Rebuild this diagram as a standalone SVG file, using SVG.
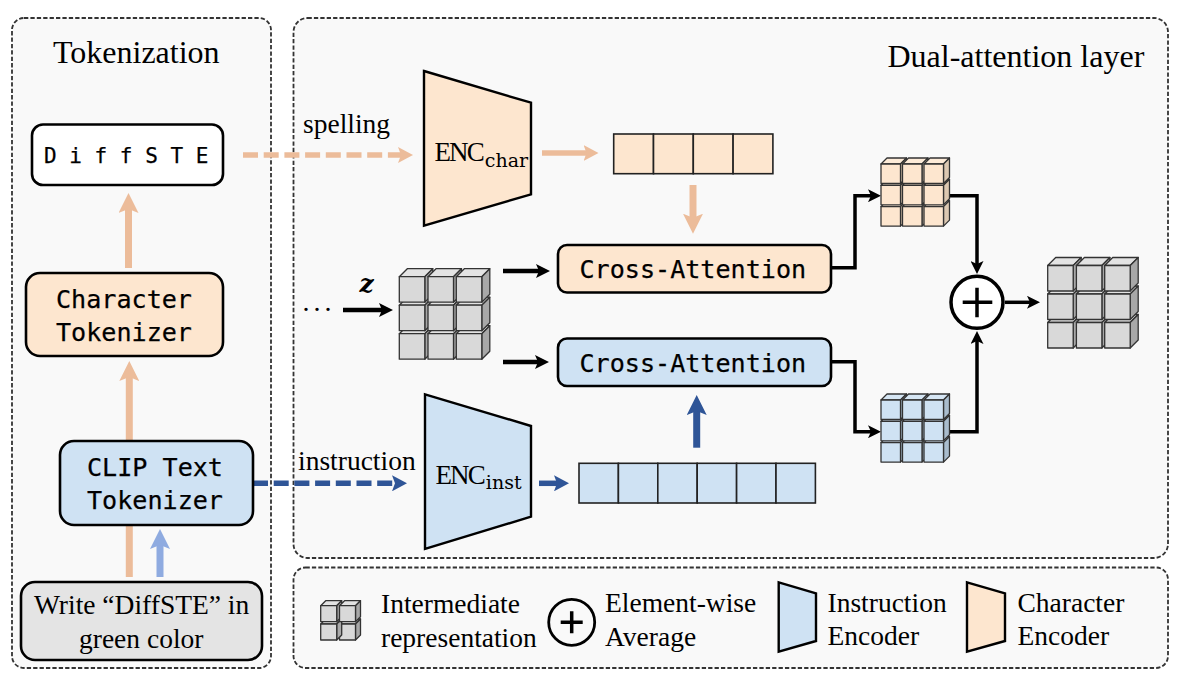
<svg xmlns="http://www.w3.org/2000/svg" width="1177" height="679" viewBox="0 0 1177 679">
<style>
text{font-family:"Liberation Serif","Times New Roman",serif;fill:#000}
.mono{font-family:"DejaVu Sans Mono",monospace;font-size:25.1px;stroke:#000;stroke-width:.25}
.t32{font-size:32px}.t27{font-size:27.5px}
.enc{font-size:27px;letter-spacing:-1.9px}.sub{font-family:"DejaVu Serif",serif;font-size:19px}
.panel{fill:#f9f9f9;stroke:#333;stroke-width:1.8;stroke-dasharray:4.3 2.1}
.box{stroke:#000;stroke-width:2.6}
.or{fill:#fde6cf}.bl{fill:#cfe2f3}.gr{fill:#e4e4e4}.wh{fill:#fff}
.trap{stroke:#000;stroke-width:2.4}
.cell{stroke:#222;stroke-width:1.6}
.f{stroke:#333;stroke-width:1.3;stroke-linejoin:round}
.conn{fill:none}
.peach{stroke:#ecbc9a}.lb{stroke:#8fabe0}.nb{stroke:#2f5597}.blk{stroke:#000}
.w7{stroke-width:7}.w5{stroke-width:5.5}.w45{stroke-width:4.5}.w35{stroke-width:3.5}
.dash{stroke-dasharray:15 5.7}
.sum{fill:#fff;stroke:#000;stroke-width:3.5}
.plus{fill:none;stroke:#000;stroke-width:3.5}
</style>
<defs>
<marker id="pL" markerUnits="userSpaceOnUse" markerWidth="20" markerHeight="20" refX="5" refY="10" orient="auto"><path d="M0,0L20,10L0,20L4,10Z" fill="#ecbc9a"/></marker>
<marker id="pS" markerUnits="userSpaceOnUse" markerWidth="15" markerHeight="16" refX="4" refY="8" orient="auto"><path d="M0,0L15,8L0,16L3,8Z" fill="#ecbc9a"/></marker>
<marker id="lL" markerUnits="userSpaceOnUse" markerWidth="20" markerHeight="20" refX="5" refY="10" orient="auto"><path d="M0,0L20,10L0,20L4,10Z" fill="#8fabe0"/></marker>
<marker id="nL" markerUnits="userSpaceOnUse" markerWidth="20" markerHeight="20" refX="5" refY="10" orient="auto"><path d="M0,0L20,10L0,20L4,10Z" fill="#2f5597"/></marker>
<marker id="nS" markerUnits="userSpaceOnUse" markerWidth="15" markerHeight="16" refX="4" refY="8" orient="auto"><path d="M0,0L15,8L0,16L3,8Z" fill="#2f5597"/></marker>
<marker id="kM" markerUnits="userSpaceOnUse" markerWidth="14" markerHeight="14" refX="4" refY="7" orient="auto"><path d="M0,0L14,7L0,14L3,7Z" fill="#000"/></marker>
<marker id="kS" markerUnits="userSpaceOnUse" markerWidth="13" markerHeight="13" refX="4" refY="6.5" orient="auto"><path d="M0,0L13,6.5L0,13L3,6.5Z" fill="#000"/></marker>

<g id="cGrey">
<path class="f" d="M0,0L8,-8H33.5L25.5,0Z" fill="#e3e3e3"/>
<path class="f" d="M25.5,0L33.5,-8V17.5L25.5,25.5Z" fill="#a8a8a8"/>
<rect class="f" width="25.5" height="25.5" fill="#d9d9d9"/>
</g>
<g id="cOr">
<path class="f" d="M0,0L6,-6H25.5L19.5,0Z" fill="#fdebd8"/>
<path class="f" d="M19.5,0L25.5,-6V13.5L19.5,19.5Z" fill="#dcc8b2"/>
<rect class="f" width="19.5" height="19.5" fill="#fde6cf"/>
</g>
<g id="cBl">
<path class="f" d="M0,0L6,-6H25.5L19.5,0Z" fill="#d6e6f4"/>
<path class="f" d="M19.5,0L25.5,-6V13.5L19.5,19.5Z" fill="#a9bccd"/>
<rect class="f" width="19.5" height="19.5" fill="#cfe2f3"/>
</g>
<g id="cXs">
<path class="f" d="M0,0L5,-5H21L16,0Z" fill="#e3e3e3"/>
<path class="f" d="M16,0L21,-5V11L16,16Z" fill="#a8a8a8"/>
<rect class="f" width="16" height="16" fill="#d9d9d9"/>
</g>
<g id="gridGrey">
<use href="#cGrey" x="0" y="57"/><use href="#cGrey" x="28.7" y="57"/><use href="#cGrey" x="57" y="57"/>
<use href="#cGrey" x="0" y="28.5"/><use href="#cGrey" x="28.7" y="28.5"/><use href="#cGrey" x="57" y="28.5"/>
<use href="#cGrey" x="0" y="0"/><use href="#cGrey" x="28.7" y="0"/><use href="#cGrey" x="57" y="0"/>
</g>
<g id="gridOr">
<use href="#cOr" x="0" y="42.6"/><use href="#cOr" x="21.5" y="42.6"/><use href="#cOr" x="43" y="42.6"/>
<use href="#cOr" x="0" y="21.3"/><use href="#cOr" x="21.5" y="21.3"/><use href="#cOr" x="43" y="21.3"/>
<use href="#cOr" x="0" y="0"/><use href="#cOr" x="21.5" y="0"/><use href="#cOr" x="43" y="0"/>
</g>
<g id="gridBl">
<use href="#cBl" x="0" y="42.6"/><use href="#cBl" x="21.5" y="42.6"/><use href="#cBl" x="43" y="42.6"/>
<use href="#cBl" x="0" y="21.3"/><use href="#cBl" x="21.5" y="21.3"/><use href="#cBl" x="43" y="21.3"/>
<use href="#cBl" x="0" y="0"/><use href="#cBl" x="21.5" y="0"/><use href="#cBl" x="43" y="0"/>
</g>
</defs>

<rect width="1177" height="679" fill="#fff"/>

<g id="panels">
<rect id="panel-tokenization" class="panel" x="12" y="18" width="259" height="650" rx="12"/>
<rect id="panel-dual" class="panel" x="293.5" y="18" width="874.5" height="540" rx="14"/>
<rect id="panel-legend" class="panel" x="293.5" y="567.5" width="874.5" height="100.5" rx="12"/>
<text class="t32" x="53" y="63">Tokenization</text>
<text class="t32" x="887.5" y="67">Dual-attention layer</text>
</g>

<g id="connectors" class="conn">
<path class="peach w7" d="M128.5,268V208" marker-end="url(#pL)"/>
<path class="peach w7" d="M129.3,577V376" marker-end="url(#pL)"/>
<path class="lb w7" d="M160,577V544" marker-end="url(#lL)"/>
<path class="peach w5 dash" d="M243,155H402" marker-end="url(#pS)"/>
<path class="nb w5 dash" d="M253,483.3H396" marker-end="url(#nS)"/>
<path class="peach w5" d="M542,153H587.5" marker-end="url(#pS)"/>
<path class="peach w7" d="M693,185V218.7" marker-end="url(#pL)"/>
<path class="nb w5" d="M539,483.3H558" marker-end="url(#nS)"/>
<path class="nb w7" d="M696.7,447.7V410" marker-end="url(#nL)"/>
<path class="blk w45" d="M343,310H383" marker-end="url(#kM)"/>
<path class="blk w45" d="M503,271H540" marker-end="url(#kM)"/>
<path class="blk w45" d="M503,362H539" marker-end="url(#kM)"/>
<path class="blk w35" d="M831,267.7H855V195.7H872" marker-end="url(#kS)"/>
<path class="blk w35" d="M831,361.7H855V431.7H872" marker-end="url(#kS)"/>
<path class="blk w35" d="M949,195.7H977V265" marker-end="url(#kS)"/>
<path class="blk w35" d="M949,431.7H977V340" marker-end="url(#kS)"/>
<path class="blk w35" d="M1005,302.3H1031" marker-end="url(#kS)"/>
<text class="t27" x="303" y="132.5" stroke="none" fill="#000">spelling</text>
<text class="t27" x="298" y="469.5" stroke="none" fill="#000">instruction</text>
<text x="359.5" y="292" stroke="none" fill="#000" style="font-family:'DejaVu Serif',serif;font-weight:bold;font-style:italic;font-size:25px">z</text>
<text x="302.5" y="311" stroke="none" fill="#000" style="font-size:28px;letter-spacing:4px">...</text>
</g>

<g id="node-diffste">
<rect class="box wh" x="32" y="124.5" width="191" height="60.5" rx="11"/>
<text class="mono" x="44" y="163" style="font-size:21px">D i f f S T E</text>
</g>
<g id="node-character-tokenizer">
<rect class="box or" x="26" y="273" width="197" height="83" rx="14"/>
<text class="mono" x="56" y="308">Character</text>
<text class="mono" x="56" y="341">Tokenizer</text>
</g>
<g id="node-clip-tokenizer">
<rect class="box bl" x="60" y="441" width="193" height="84" rx="14"/>
<text class="mono" x="87" y="475.5">CLIP Text</text>
<text class="mono" x="87" y="508.5">Tokenizer</text>
</g>
<g id="node-prompt">
<rect class="box gr" x="21" y="582" width="241" height="78" rx="14"/>
<text class="t27" x="34" y="613.5">Write “DiffSTE” in</text>
<text class="t27" x="79" y="647.5">green color</text>
</g>
<g id="node-enc-char">
<path class="trap or" d="M424,71L531,102.7V194.3L424,225.7Z"/>
<text x="434.5" y="161"><tspan class="enc">ENC</tspan><tspan class="sub" dx="2" dy="6">char</tspan></text>
</g>
<g id="node-enc-inst">
<path class="trap bl" d="M425,394.3L531,426V516.7L425,549Z"/>
<text x="435.5" y="483.5"><tspan class="enc">ENC</tspan><tspan class="sub" dx="2" dy="5">inst</tspan></text>
</g>
<g id="node-char-embedding">
<rect class="cell or" x="613.7" y="134" width="39.8" height="39.7"/>
<rect class="cell or" x="653.5" y="134" width="39.8" height="39.7"/>
<rect class="cell or" x="693.3" y="134" width="39.8" height="39.7"/>
<rect class="cell or" x="733.1" y="134" width="39.8" height="39.7"/>
</g>
<g id="node-inst-embedding">
<rect class="cell bl" x="579" y="463.3" width="39.4" height="39.7"/>
<rect class="cell bl" x="618.4" y="463.3" width="39.4" height="39.7"/>
<rect class="cell bl" x="657.8" y="463.3" width="39.4" height="39.7"/>
<rect class="cell bl" x="697.2" y="463.3" width="39.4" height="39.7"/>
<rect class="cell bl" x="736.6" y="463.3" width="39.4" height="39.7"/>
<rect class="cell bl" x="776" y="463.3" width="39.4" height="39.7"/>
</g>
<g id="node-cross-attn-char">
<rect class="box or" x="558" y="245" width="273" height="47.5" rx="9"/>
<text class="mono" x="579.5" y="278">Cross-Attention</text>
</g>
<g id="node-cross-attn-inst">
<rect class="box bl" x="558" y="338.5" width="273" height="47.5" rx="9"/>
<text class="mono" x="579.5" y="372">Cross-Attention</text>
</g>
<g id="node-latent-z"><use href="#gridGrey" x="399.3" y="276.7"/></g>
<g id="node-latent-char"><use href="#gridOr" x="881" y="164"/></g>
<g id="node-latent-inst"><use href="#gridBl" x="881" y="400"/></g>
<g id="node-output"><use href="#gridGrey" x="1047.7" y="265.5"/></g>
<g id="node-sum">
<circle class="sum" cx="977" cy="302.3" r="26"/>
<path class="plus" d="M962.7,302.3H992.3M977,287.7V317.3"/>
</g>

<g id="legend">
<g id="legend-intermediate">
<use href="#cXs" x="339.5" y="624"/><use href="#cXs" x="320.7" y="624"/>
<use href="#cXs" x="320.7" y="605.7"/><use href="#cXs" x="339.5" y="605.7"/>
<text class="t27" x="381" y="612.5">Intermediate</text>
<text class="t27" x="381" y="646.5">representation</text>
</g>
<g id="legend-average">
<circle cx="571.7" cy="622.3" r="23" fill="none" stroke="#000" stroke-width="2.8"/>
<path class="plus" d="M560.7,622.3H582.7M571.7,611.3V633.3"/>
<text class="t27" x="605" y="611.5">Element-wise</text>
<text class="t27" x="605" y="645.5">Average</text>
</g>
<g id="legend-instruction">
<path class="trap bl" d="M778.7,582.3L816,593.3V641L778.7,651.7Z"/>
<text class="t27" x="827.5" y="611.5">Instruction</text>
<text class="t27" x="827.5" y="644.5">Encoder</text>
</g>
<g id="legend-character">
<path class="trap or" d="M967,582.3L1005,593.3V641L967,651.7Z"/>
<text class="t27" x="1017.5" y="611.5">Character</text>
<text class="t27" x="1017.5" y="644.5">Encoder</text>
</g>
</g>
</svg>
